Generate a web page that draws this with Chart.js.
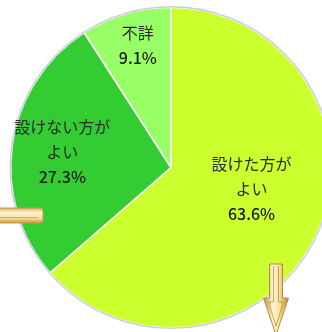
<!DOCTYPE html>
<html>
<head>
<meta charset="utf-8">
<script src="https://cdn.jsdelivr.net/npm/chart.js@4.4.0/dist/chart.umd.min.js"></script>
<style>
  html, body { margin: 0; padding: 0; background: #fff; overflow: hidden; }
  canvas { display: block; }
</style>
</head>
<body>
<canvas id="pie" width="342" height="332"></canvas>
<script>
const labels = [['設けた方が', 'よい'], ['設けない方が', 'よい'], ['不詳']];
const values = [63.6, 27.3, 9.1];
const percentLabels = ['63.6%', '27.3%', '9.1%'];
const colors = ['#ccff2e', '#33cc33', '#99ff66'];

// radial position of each label block: fraction of radius, angle tweak (deg)
const labelPlace = [
  { f: 0.52, dA: -9.5 },
  { f: 0.685, dA: 0 },
  { f: 0.79, dA: 1.2 }
];

const sliceLabels = {
  id: 'sliceLabels',
  afterDatasetsDraw(chart) {
    const ctx = chart.ctx;
    const arcs = chart.getDatasetMeta(0).data;
    // faint rim round the pie
    const a0 = arcs[0];
    ctx.save();
    ctx.beginPath();
    ctx.arc(a0.x, a0.y, a0.outerRadius + 0.5, 0, Math.PI * 2);
    ctx.strokeStyle = 'rgba(160,160,200,0.55)';
    ctx.lineWidth = 1.5;
    ctx.stroke();

    ctx.textAlign = 'center';
    ctx.textBaseline = 'middle';
    const lh = 25;
    arcs.forEach((arc, i) => {
      const p = labelPlace[i];
      const mid = (arc.startAngle + arc.endAngle) / 2 + p.dA * Math.PI / 180;
      const r = arc.outerRadius * p.f;
      const cx = arc.x + Math.cos(mid) * r;
      const cy = arc.y + Math.sin(mid) * r;
      const lines = labels[i].concat([percentLabels[i]]);
      const top = cy - (lines.length - 1) * lh / 2;
      lines.forEach((t, j) => {
        const isPct = j === lines.length - 1;
        ctx.font = (isPct ? '500 ' : '') + '16px "Noto Sans CJK JP", "Noto Sans", sans-serif';
        ctx.fillStyle = isPct ? '#1a1a1a' : '#2b2b2b';
        ctx.fillText(t, cx, top + j * lh);
      });
    });
    ctx.restore();
  }
};

// the two gold arrows laid over the picture
const arrows = {
  id: 'arrows',
  afterDraw(chart) {
    const ctx = chart.ctx;
    ctx.save();

    // left, horizontal shaft
    let g = ctx.createLinearGradient(0, 208, 0, 223);
    g.addColorStop(0, '#d6ad58');
    g.addColorStop(0.3, '#fff5d2');
    g.addColorStop(0.65, '#fbe4a2');
    g.addColorStop(1, '#c8983f');
    ctx.beginPath();
    ctx.moveTo(-2, 208);
    ctx.lineTo(40, 208);
    ctx.quadraticCurveTo(43, 208, 43, 211);
    ctx.lineTo(43, 220);
    ctx.quadraticCurveTo(43, 223, 40, 223);
    ctx.lineTo(-2, 223);
    ctx.closePath();
    ctx.fillStyle = g;
    ctx.fill();
    ctx.strokeStyle = '#c99b4a';
    ctx.lineWidth = 1;
    ctx.stroke();
    ctx.beginPath();
    ctx.moveTo(0, 217.5);
    ctx.lineTo(38, 217.5);
    ctx.strokeStyle = 'rgba(190,150,70,0.7)';
    ctx.stroke();

    // down arrow
    g = ctx.createLinearGradient(264, 0, 289, 0);
    g.addColorStop(0, '#c8983f');
    g.addColorStop(0.35, '#fff5d2');
    g.addColorStop(0.6, '#fbe4a2');
    g.addColorStop(1, '#b8862f');
    ctx.beginPath();
    ctx.moveTo(269.5, 264);
    ctx.lineTo(282.5, 264);
    ctx.lineTo(282.5, 298);
    ctx.lineTo(288.5, 298);
    ctx.lineTo(276, 335);
    ctx.lineTo(263.5, 298);
    ctx.lineTo(269.5, 298);
    ctx.closePath();
    ctx.fillStyle = g;
    ctx.fill();
    ctx.strokeStyle = '#b98a3a';
    ctx.stroke();
    ctx.beginPath();
    ctx.moveTo(273.5, 266);
    ctx.lineTo(273.5, 302);
    ctx.lineTo(268.5, 302);
    ctx.lineTo(276, 326);
    ctx.lineTo(283.5, 302);
    ctx.lineTo(278.5, 302);
    ctx.lineTo(278.5, 266);
    ctx.strokeStyle = 'rgba(185,140,60,0.75)';
    ctx.stroke();

    ctx.restore();
  }
};

new Chart(document.getElementById('pie'), {
  type: 'pie',
  data: {
    labels: labels.map(l => l.join('')),
    datasets: [{
      data: values,
      backgroundColor: colors,
      borderColor: '#ffffff',
      borderWidth: 1.5
    }]
  },
  options: {
    responsive: false,
    devicePixelRatio: 1,
    animation: false,
    layout: { padding: { left: 10, right: 10, top: 6, bottom: 3 } },
    plugins: {
      legend: { display: false },
      tooltip: { enabled: false }
    }
  },
  plugins: [sliceLabels, arrows]
});
</script>
</body>
</html>
